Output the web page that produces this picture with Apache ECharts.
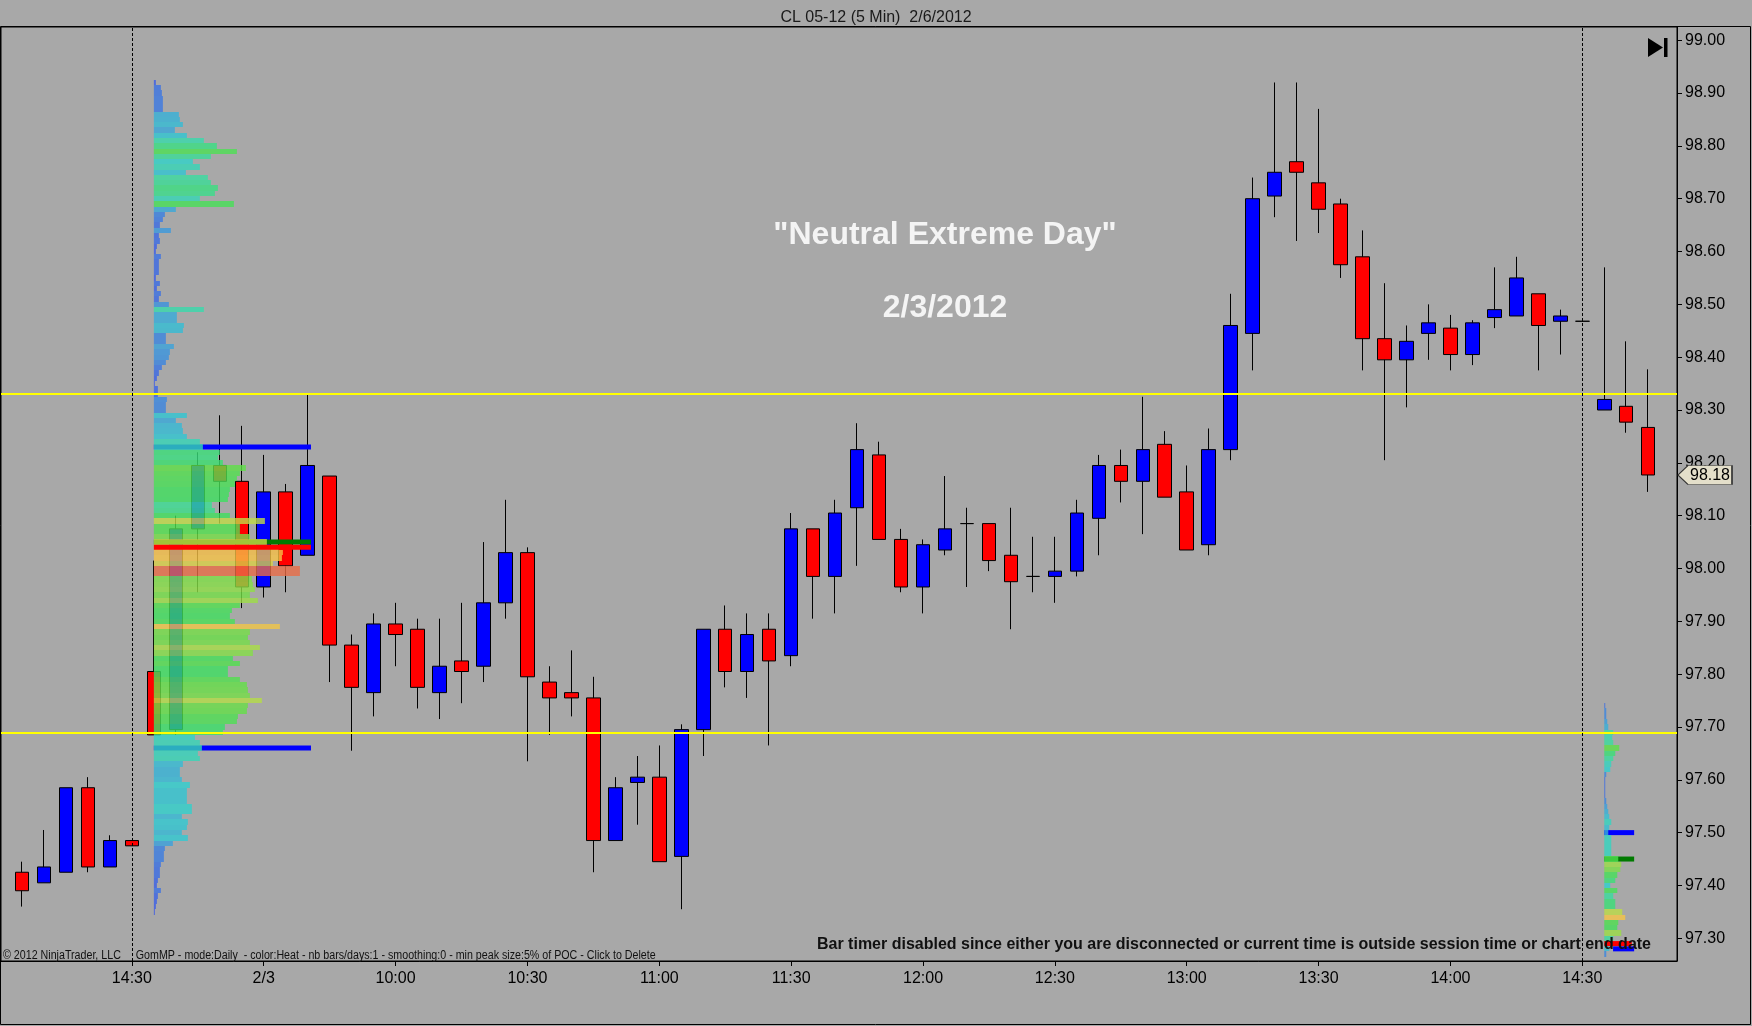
<!DOCTYPE html>
<html>
<head>
    <title>CL 05-12 (5 Min)  2/6/2012</title>
    <meta charset="UTF-8">
    <script type="text/javascript" src="https://cdn.jsdelivr.net/npm/echarts@6/dist/echarts.min.js"></script>
    <style type="text/css">
        html, body {
            margin: 0;
            padding: 0;
            background: #a8a8a8;
        }
        #price_chart {
            width: 1752px;
            height: 1026px;
        }
    </style>
</head>
<body>
<div id="price_chart"></div>

<script type="text/javascript">
    // 5 min bars: 2/2 14:05 .. 14:30, 2/3 9:05 .. 14:30, 2/6 9:05 .. 9:15 (x = bar slot)
    var candleOpen = [
        97.425, 97.405, 97.425, 97.585, 97.435, 97.485,
        97.805, 97.695, 98.075, 98.195, 98.165, 97.965, 98.145, 98.025, 98.175, 97.855,
        97.765, 97.895, 97.885, 97.765, 97.825, 97.815, 97.935, 98.03, 97.785, 97.765,
        97.755, 97.485, 97.595, 97.605, 97.455, 97.695, 97.885, 97.805, 97.885, 97.835,
        98.075, 97.985, 98.115, 98.215, 98.055, 97.965, 98.035, 98.085, 98.085, 98.025,
        97.985, 97.985, 97.995, 98.095, 98.195, 98.165, 98.235, 98.145, 98.045, 98.225,
        98.445, 98.705, 98.77, 98.73, 98.69, 98.59, 98.435, 98.395, 98.445, 98.455,
        98.405, 98.475, 98.478, 98.52, 98.468, 98.468,
        98.30, 98.307, 98.267
    ];
    var candleHigh = [
        97.445, 97.505, 97.585, 97.605, 97.495, 97.485,
        98.015, 98.10, 98.22, 98.29, 98.27, 98.215, 98.16, 98.33, 98.175, 97.875,
        97.915, 97.935, 97.905, 97.905, 97.935, 98.05, 98.13, 98.04, 97.815, 97.845,
        97.795, 97.605, 97.645, 97.665, 97.705, 97.885, 97.93, 97.915, 97.915, 98.105,
        98.075, 98.13, 98.275, 98.24, 98.075, 98.055, 98.175, 98.115, 98.085, 98.115,
        98.06, 98.06, 98.13, 98.215, 98.225, 98.325, 98.26, 98.195, 98.265, 98.52,
        98.74, 98.92, 98.92, 98.87, 98.70, 98.64, 98.54, 98.46, 98.50, 98.48,
        98.47, 98.57, 98.59, 98.52, 98.49, 98.468,
        98.57, 98.43, 98.377
    ];
    var candleLow = [
        97.36, 97.405, 97.425, 97.425, 97.435, 97.475,
        97.685, 97.685, 97.955, 98.085, 97.925, 97.945, 97.955, 98.025, 97.785, 97.655,
        97.72, 97.815, 97.735, 97.715, 97.745, 97.785, 97.905, 97.635, 97.685, 97.72,
        97.425, 97.485, 97.515, 97.445, 97.355, 97.645, 97.775, 97.755, 97.665, 97.815,
        97.905, 97.915, 98.005, 98.055, 97.955, 97.915, 98.025, 97.965, 97.995, 97.885,
        97.955, 97.935, 97.985, 98.025, 98.125, 98.065, 98.135, 98.035, 98.025, 98.205,
        98.375, 98.665, 98.62, 98.635, 98.55, 98.375, 98.205, 98.305, 98.395, 98.375,
        98.385, 98.455, 98.478, 98.375, 98.405, 98.468,
        98.30, 98.257, 98.145
    ];
    var candleClose = [
        97.39, 97.435, 97.585, 97.435, 97.485, 97.475,
        97.685, 98.075, 98.195, 98.165, 97.965, 98.145, 98.005, 98.195, 97.855, 97.775,
        97.895, 97.875, 97.775, 97.815, 97.805, 97.935, 98.03, 97.795, 97.755, 97.755,
        97.485, 97.585, 97.605, 97.445, 97.695, 97.885, 97.805, 97.875, 97.825, 98.075,
        97.985, 98.105, 98.225, 98.055, 97.965, 98.045, 98.075, 98.085, 98.015, 97.975,
        97.985, 97.995, 98.105, 98.195, 98.165, 98.225, 98.135, 98.035, 98.225, 98.46,
        98.70, 98.75, 98.75, 98.68, 98.575, 98.435, 98.395, 98.43, 98.465, 98.405,
        98.465, 98.49, 98.55, 98.46, 98.478, 98.468,
        98.32, 98.277, 98.177
    ];

    var tickIndex = [5, 11, 17, 23, 29, 35, 41, 47, 53, 59, 65, 71];
    var tickLabels = ['14:30', '2/3', '10:00', '10:30', '11:00', '11:30', '12:00', '12:30', '13:00', '13:30', '14:00', '14:30'];
    var priceTicks = [97.3, 97.4, 97.5, 97.6, 97.7, 97.8, 97.9, 98.0, 98.1, 98.2, 98.3, 98.4, 98.5, 98.6, 98.7, 98.8, 98.9, 99.0];

    // yellow reference lines and session breaks
    var refLevels = [98.33, 97.69];
    var sessionBreaks = [5, 71];

    // GomMP daily profile of 2/3, one value per 0.01 tick from the top price down
    var profileATop = 98.92;
    var profileAStart = 6;
    var profileAVol = [
        2, 7, 8, 9, 9, 9, 25, 26, 29, 21,
        33, 50, 63, 83, 57, 39, 46, 32, 54, 57,
        64, 61, 46, 80, 22, 11, 9, 6, 17, 5,
        6, 3, 2, 7, 5, 5, 5, 2, 6, 3,
        7, 5, 15, 50, 23, 23, 30, 29, 12, 12,
        20, 16, 15, 12, 8, 5, 3, 1, 4, 4,
        13, 12, 12, 33, 22, 28, 29, 33, 46, 49,
        66, 64, 69, 92, 86, 83, 81, 76, 75, 74,
        58, 61, 76, 111, 86, 86, 96, 113, 125, 129,
        128, 119, 146, 146, 98, 99, 101, 96, 104, 86,
        78, 76, 81, 126, 96, 94, 96, 106, 99, 79,
        86, 74, 74, 86, 93, 94, 96, 108, 94, 93,
        84, 83, 71, 69, 41, 46, 48, 44, 46, 29,
        26, 26, 28, 36, 33, 33, 33, 38, 38, 28,
        34, 33, 28, 34, 19, 11, 10, 10, 7, 6,
        6, 4, 3, 7, 4, 3, 2, 1
    ];
    // developing profile of 2/6
    var profileBTop = 97.74;
    var profileBStart = 72;
    var profileBVol = [
        1, 2, 2, 3, 4, 9, 8, 9, 15, 11,
        9, 7, 6, 2, 1, 1, 1, 1, 2, 3,
        4, 5, 7, 5, 4, 7, 7, 7, 7, 14,
        17, 16, 13, 11, 6, 13, 9, 11, 11, 18,
        21, 14, 13, 17, 9, 7, 5, 2
    ];

    // value area / poc lines of the profiles
    var levelKind = ['vah', 'dpoc', 'poc', 'val', 'vah', 'dpoc', 'poc', 'val'];
    var levelPrice = [98.23, 98.05, 98.04, 97.66, 97.50, 97.45, 97.29, 97.28];
    var levelFrom = [6, 6, 6, 6, 72, 72, 72, 72.4];
    var levelTo = [13.15, 13.15, 13.15, 13.15, 73.36, 73.36, 73.25, 73.36];

    var X_MIN = -0.956, X_MAX = 75.31;
    var TICK = 0.01;
    var VOL_PER_BAR = 21.97;
    var kindColor = {vah: '#0000ff', val: '#0000ff', dpoc: '#007a00', poc: '#ff0000'};
    var heatColors = ['#3a53e9', '#3a9edc', '#2ed0d0', '#3adc9e', '#3ae060', '#5ae046', '#bcdc46', '#f6c446', '#e96c46'];

    var candleData = [];
    for (var i = 0; i < candleOpen.length; i++) {
        candleData.push([i, candleOpen[i], candleClose[i], candleLow[i], candleHigh[i]]);
    }
    var lastClose = candleClose[candleClose.length - 1];

    function profileRows(top, start, vols) {
        var rows = [];
        for (var k = 0; k < vols.length; k++) {
            rows.push([start, +(top - k * TICK).toFixed(2), vols[k]]);
        }
        return rows;
    }
    var profileA = profileRows(profileATop, profileAStart, profileAVol);
    var profileB = profileRows(profileBTop, profileBStart, profileBVol);

    var levelsUnder = [], levelsOver = [];
    for (var j = 0; j < levelPrice.length; j++) {
        var row = [levelFrom[j], levelPrice[j], levelTo[j], j];
        if (levelKind[j] === 'poc') levelsOver.push(row); else levelsUnder.push(row);
    }

    function renderProfile(params, api) {
        var start = api.value(0), price = api.value(1), vol = api.value(2);
        var p0 = api.coord([start, price + TICK / 2]);
        var p1 = api.coord([start + vol / VOL_PER_BAR, price - TICK / 2]);
        var y0 = Math.round(p0[1]), y1 = Math.round(p1[1]);
        return {
            type: 'rect',
            shape: {x: p0[0], y: y0, width: p1[0] - p0[0], height: y1 - y0},
            style: {fill: api.visual('color'), opacity: 0.8}
        };
    }

    function renderLevel(params, api) {
        var p0 = api.coord([api.value(0), api.value(1)]);
        var p1 = api.coord([api.value(2), api.value(1)]);
        return {
            type: 'rect',
            shape: {x: p0[0], y: p0[1] - 2.5, width: p1[0] - p0[0], height: 5},
            style: {fill: kindColor[levelKind[api.value(3)]]}
        };
    }

    var font = 'Liberation Sans, Arial, sans-serif';
    var priceChart = echarts.init(document.getElementById('price_chart'));

    priceChart.setOption({
        backgroundColor: '#a8a8a8',
        animation: false,
        title: {
            text: 'CL 05-12 (5 Min)  2/6/2012',
            left: 'center',
            top: 5,
            textStyle: {fontFamily: font, fontSize: 16, fontWeight: 'normal', color: '#1a1a1a'}
        },
        grid: {
            left: 1,
            top: 27,
            right: 75,
            bottom: 65,
            show: true,
            borderColor: '#000',
            borderWidth: 1
        },
        xAxis: {
            type: 'value',
            min: X_MIN,
            max: X_MAX,
            axisLine: {show: true, onZero: false, lineStyle: {color: '#000'}},
            axisTick: {show: true, length: 5, customValues: tickIndex, lineStyle: {color: '#000'}},
            axisLabel: {
                customValues: tickIndex,
                margin: 10,
                color: '#000',
                fontFamily: font,
                fontSize: 16,
                formatter: function (v) {
                    return tickLabels[tickIndex.indexOf(Math.round(v))];
                }
            },
            splitLine: {show: false}
        },
        yAxis: {
            type: 'value',
            position: 'right',
            min: 97.257,
            max: 99.025,
            axisLine: {show: true, onZero: false, lineStyle: {color: '#000'}},
            axisTick: {show: true, length: 5, customValues: priceTicks, lineStyle: {color: '#000'}},
            axisLabel: {
                customValues: priceTicks,
                margin: 8,
                color: '#000',
                fontFamily: font,
                fontSize: 16,
                formatter: function (v) {
                    return v.toFixed(2);
                }
            },
            splitLine: {show: false}
        },
        visualMap: [
            {type: 'continuous', show: false, seriesIndex: 2, dimension: 2, min: 0, max: 146, inRange: {color: heatColors}},
            {type: 'continuous', show: false, seriesIndex: 3, dimension: 2, min: 0, max: 24, inRange: {color: heatColors}}
        ],
        series: [
            {
                name: 'CL 05-12',
                type: 'candlestick',
                data: candleData,
                encode: {x: 0, y: [1, 2, 3, 4]},
                barWidth: 14,
                z: 2,
                itemStyle: {
                    color: '#0000ff',
                    color0: '#ff0000',
                    borderColor: '#000',
                    borderColor0: '#000',
                    borderWidth: 1
                },
                emphasis: {disabled: true},
                markLine: {
                    silent: true,
                    symbol: ['none', 'none'],
                    animation: false,
                    data: [
                        {yAxis: refLevels[0], lineStyle: {color: '#ffff00', width: 2, type: 'solid'}, label: {show: false}},
                        {yAxis: refLevels[1], lineStyle: {color: '#ffff00', width: 2, type: 'solid'}, label: {show: false}},
                        {xAxis: sessionBreaks[0], lineStyle: {color: '#000', width: 1, type: [3, 2]}, label: {show: false}},
                        {xAxis: sessionBreaks[1], lineStyle: {color: '#000', width: 1, type: [3, 2]}, label: {show: false}}
                    ]
                }
            },
            {
                name: 'levels',
                type: 'custom',
                data: levelsUnder,
                encode: {x: [0, 2], y: 1},
                renderItem: renderLevel,
                silent: true,
                z: 3
            },
            {
                name: 'profile 2/3',
                type: 'custom',
                data: profileA,
                encode: {x: 0, y: 1},
                renderItem: renderProfile,
                silent: true,
                z: 4
            },
            {
                name: 'profile 2/6',
                type: 'custom',
                data: profileB,
                encode: {x: 0, y: 1},
                renderItem: renderProfile,
                silent: true,
                z: 4
            },
            {
                name: 'poc',
                type: 'custom',
                data: levelsOver,
                encode: {x: [0, 2], y: 1},
                renderItem: renderLevel,
                silent: true,
                z: 5,
                markPoint: {
                    silent: true,
                    animation: false,
                    data: [{
                        coord: [X_MAX, lastClose],
                        symbol: 'path://M0,9 L10,0 L54,0 L54,18 L10,18 Z',
                        symbolSize: [54, 19],
                        symbolOffset: [28, 0],
                        itemStyle: {color: '#e4dfca', borderColor: '#333', borderWidth: 1},
                        label: {
                            show: true,
                            position: 'inside',
                            offset: [5, 1],
                            formatter: lastClose.toFixed(2),
                            color: '#000',
                            fontFamily: font,
                            fontSize: 16
                        }
                    }]
                }
            }
        ],
        graphic: [
            {
                type: 'rect',
                shape: {x: 0.5, y: 26.5, width: 1750, height: 998},
                style: {fill: 'none', stroke: '#000', lineWidth: 1},
                silent: true,
                z: 10
            },
            {
                type: 'polygon',
                shape: {points: [[1648, 38], [1648, 57], [1663, 47.5]]},
                style: {fill: '#000'},
                silent: true
            },
            {
                type: 'rect',
                shape: {x: 1664, y: 38, width: 3.5, height: 19},
                style: {fill: '#000'},
                silent: true
            },
            {
                type: 'text',
                x: 945,
                y: 235,
                style: {
                    text: '"Neutral Extreme Day"',
                    fill: '#f4f4f4',
                    font: 'bold 32px Liberation Sans, Arial, sans-serif',
                    textAlign: 'center',
                    textVerticalAlign: 'middle'
                },
                silent: true
            },
            {
                type: 'text',
                x: 945,
                y: 308,
                style: {
                    text: '2/3/2012',
                    fill: '#f4f4f4',
                    font: 'bold 32px Liberation Sans, Arial, sans-serif',
                    textAlign: 'center',
                    textVerticalAlign: 'middle'
                },
                silent: true
            },
            {
                type: 'text',
                x: 3,
                y: 956,
                scaleX: 0.89,
                style: {
                    text: '\u00a9 2012 NinjaTrader, LLC     GomMP - mode:Daily  - color:Heat - nb bars/days:1 - smoothing:0 - min peak size:5% of POC - Click to Delete',
                    fill: '#111',
                    font: '12px Liberation Sans, Arial, sans-serif',
                    textAlign: 'left',
                    textVerticalAlign: 'middle'
                },
                silent: true,
                z: 6
            },
            {
                type: 'text',
                x: 1651,
                y: 945,
                style: {
                    text: 'Bar timer disabled since either you are disconnected or current time is outside session time or chart end date',
                    fill: '#111',
                    font: 'bold 16px Liberation Sans, Arial, sans-serif',
                    textAlign: 'right',
                    textVerticalAlign: 'middle'
                },
                silent: true,
                z: 6
            }
        ]
    });
</script>

</body>
</html>
